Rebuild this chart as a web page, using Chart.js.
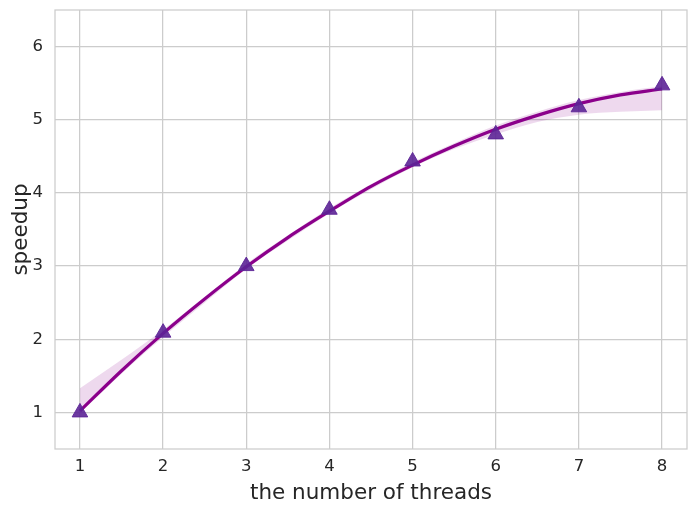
<!DOCTYPE html>
<html lang="en">
<head>
  <meta charset="UTF-8" />
  <title>speedup</title>
  <script src="https://cdn.jsdelivr.net/npm/chart.js"></script>
  <style>
    * { box-sizing: border-box; }
    body { margin: 0; background: #fff; }
    #wrap { width: 697px; height: 510px; position: relative; }
  </style>
</head>
<body>
  <div id="wrap"><canvas id="chart"></canvas></div>
  <script>
    // measured speedup per thread count
    const threads = [1, 2, 3, 4, 5, 6, 7, 8];
    const speedup = [1.0, 2.09, 3.0, 3.77, 4.43, 4.80, 5.17, 5.47];

    // fitted curve and its confidence band
    const fitX = [1, 1.5, 2, 2.5, 3, 3.5, 4, 4.5, 5, 5.5, 6, 6.5, 7, 7.5, 8];
    const fitY = [1.02, 1.57, 2.08, 2.55, 2.99, 3.39, 3.75, 4.09, 4.38, 4.64, 4.87, 5.06, 5.22, 5.34, 5.42];
    const bandHi = [1.33, 1.72, 2.13, 2.58, 3.03, 3.42, 3.79, 4.12, 4.42, 4.68, 4.92, 5.11, 5.27, 5.38, 5.46];
    const bandLo = [0.99, 1.53, 2.03, 2.50, 2.96, 3.35, 3.72, 4.05, 4.35, 4.60, 4.80, 4.97, 5.07, 5.11, 5.13];

    const xTicks = [1, 2, 3, 4, 5, 6, 7, 8];
    const yTicks = [1, 2, 3, 4, 5, 6];

    const pts = (xs, ys) => xs.map((x, i) => ({ x: x, y: ys[i] }));
    const font = 'DejaVu Sans';
    const grid = '#cccccc';

    // frame round the plot area, like the seaborn whitegrid spines
    const frame = {
      id: 'frame',
      afterDatasetsDraw(chart) {
        const a = chart.chartArea, ctx = chart.ctx;
        ctx.save();
        ctx.strokeStyle = grid;
        ctx.lineWidth = 1.25;
        ctx.strokeRect(a.left, a.top, a.right - a.left, a.bottom - a.top);
        ctx.restore();
      }
    };

    new Chart(document.getElementById('chart'), {
      type: 'scatter',
      data: {
        datasets: [
          {
            type: 'line', data: pts(fitX, bandHi), fill: '+1',
            backgroundColor: 'rgba(139,0,139,0.15)', borderWidth: 0,
            pointRadius: 0, cubicInterpolationMode: 'monotone', order: 3
          },
          {
            type: 'line', data: pts(fitX, bandLo), fill: false,
            borderWidth: 0, pointRadius: 0, cubicInterpolationMode: 'monotone', order: 3
          },
          {
            type: 'line', data: pts(fitX, fitY), fill: false,
            borderColor: '#8b008b', borderWidth: 3.2,
            pointRadius: 0, cubicInterpolationMode: 'monotone', order: 2
          },
          {
            data: pts(threads, speedup), pointStyle: 'triangle', pointRadius: 9,
            backgroundColor: 'rgba(92,36,150,0.9)', borderColor: 'rgba(92,36,150,0.9)',
            borderWidth: 1, order: 1
          }
        ]
      },
      options: {
        responsive: true,
        maintainAspectRatio: false,
        animation: false,
        layout: { padding: { top: 5, right: 5, left: 0, bottom: 0 } },
        plugins: { legend: { display: false }, tooltip: { enabled: false } },
        scales: {
          x: {
            type: 'linear', min: 0.7, max: 8.3,
            afterBuildTicks: s => { s.ticks = xTicks.map(v => ({ value: v })); },
            afterFit: s => { s.height = 61; s.paddingLeft = 0; s.paddingRight = 0; },
            grid: { color: grid, lineWidth: 1.25, drawTicks: false },
            border: { display: false },
            ticks: { color: '#262626', font: { family: font, size: 16.5 }, padding: 8 },
            title: { display: true, text: 'the number of threads', color: '#262626',
                     font: { family: font, size: 21.5 }, padding: { top: 0 } }
          },
          y: {
            min: 0.5, max: 6.5,
            afterBuildTicks: s => { s.ticks = yTicks.map(v => ({ value: v })); },
            afterFit: s => { s.width = 55; s.paddingTop = 0; s.paddingBottom = 0; },
            grid: { color: grid, lineWidth: 1.25, drawTicks: false },
            border: { display: false },
            ticks: { color: '#262626', font: { family: font, size: 16.5 }, padding: 12 },
            title: { display: true, text: 'speedup', color: '#262626',
                     font: { family: font, size: 21.5 }, padding: { top: 9, bottom: 0 } }
          }
        }
      },
      plugins: [frame]
    });
  </script>
</body>
</html>
